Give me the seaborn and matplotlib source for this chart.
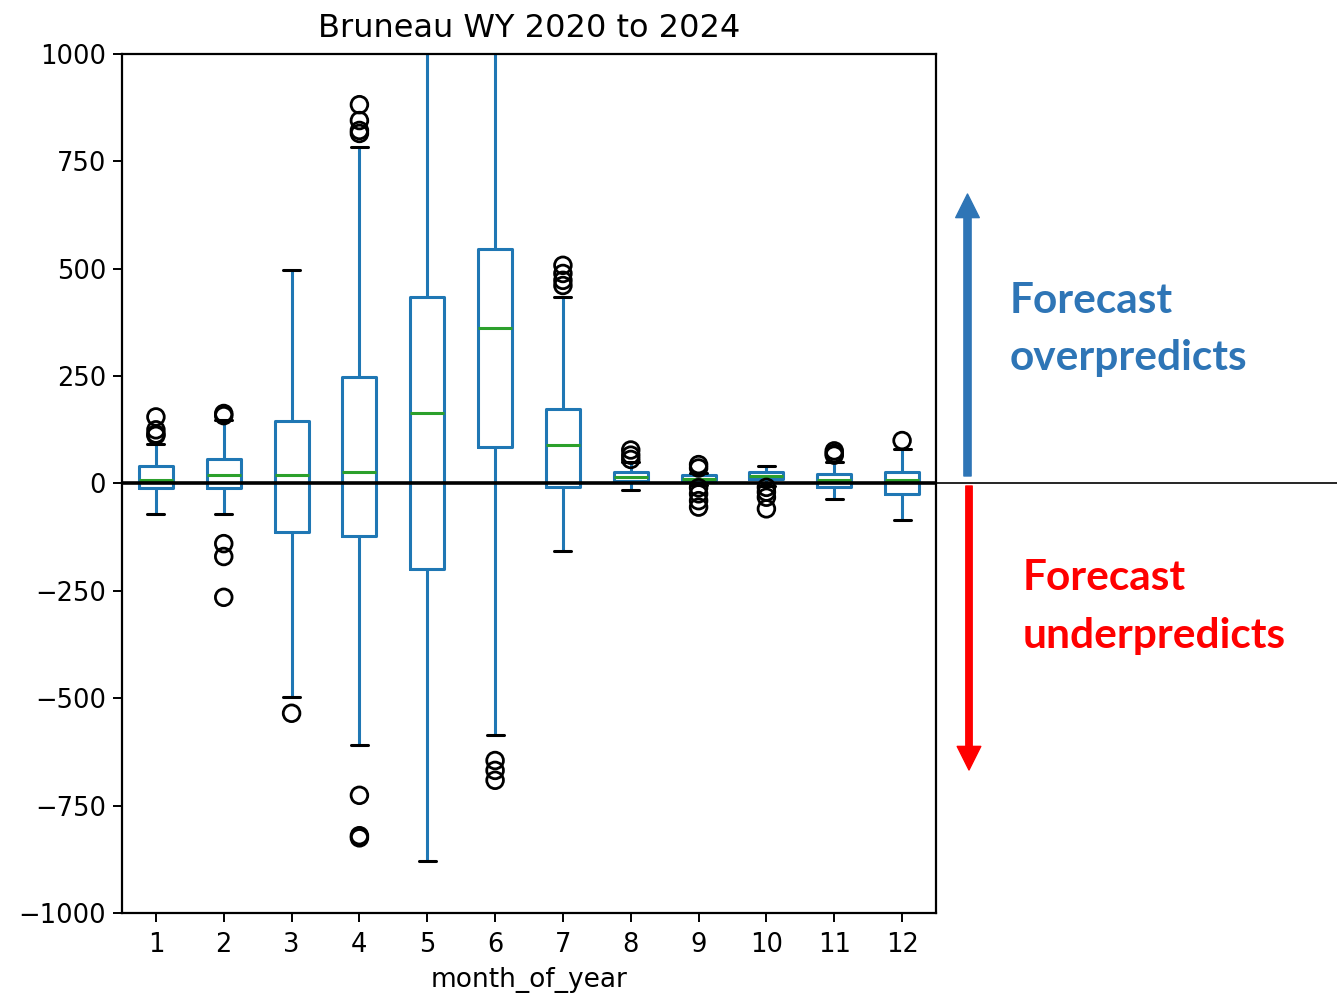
import numpy as np
import pandas as pd
import seaborn as sns
import matplotlib
matplotlib.use("Agg")
import matplotlib.pyplot as plt
from matplotlib.patches import FancyArrowPatch
from matplotlib.lines import Line2D

# ---- data ----
months = ["1", "2", "3", "4", "5", "6", "7", "8", "9", "10", "11", "12"]
# box stats: lower whisker, Q1, median, Q3, upper whisker
whisk_lo = [-70, -72, -497, -608, -880, -585, -158, -15, -3, -5, -37, -86]
q1       = [-10, -10, -113, -123, -200, 85, -7, 5, 9, 11, -8, -25]
median   = [8, 19, 19, 26, 163, 363, 89, 16, 11, 18, 7, 7]
q3       = [40, 56, 145, 249, 435, 545, 174, 26, 19, 26, 23, 26]
whisk_hi = [93, 147, 496, 783, 1250, 1300, 434, 50, 25, 40, 50, 80]
outliers = {
    "1": [155, 125, 115, 112],
    "2": [163, 158, -140, -170, -265],
    "3": [-535],
    "4": [882, 845, 822, 815, -726, -820, -825],
    "6": [-645, -668, -691],
    "7": [508, 489, 473, 461],
    "8": [78, 66, 56],
    "9": [44, 36, -10, -24, -40, -55],
    "10": [-9, -20, -32, -59],
    "11": [76, 70, 66],
    "12": [100],
}
yticks = [-1000, -750, -500, -250, 0, 250, 500, 750, 1000]

box_df = pd.DataFrame({
    "month_of_year": np.repeat(months, 5),
    "value": np.ravel(np.column_stack([whisk_lo, q1, median, q3, whisk_hi])),
})
out_df = pd.DataFrame(
    [(m, v) for m, vals in outliers.items() for v in vals],
    columns=["month_of_year", "value"],
)

sns.set_style("ticks")
plt.rcParams["font.family"] = ["DejaVu Sans"]

fig = plt.figure(figsize=(13.37, 9.94), dpi=100)
ax = fig.add_axes([122 / 1337, 1 - 913 / 994, (936 - 122) / 1337, (913 - 54) / 994])

blue = "#1f77b4"
sns.boxplot(
    data=box_df, x="month_of_year", y="value", order=months, ax=ax,
    whis=(0, 100), width=0.5, fill=False, color=blue, linewidth=2.2,
    boxprops=dict(color=blue, linewidth=2.2),
    whiskerprops=dict(color=blue, linewidth=2.2),
    capprops=dict(color="black", linewidth=2.2),
    medianprops=dict(color="#2ca02c", linewidth=2.2),
    showfliers=False,
)
n_before = len(ax.collections)
sns.stripplot(data=out_df, x="month_of_year", y="value", order=months, ax=ax,
              jitter=False, size=12, color="black")
for coll in ax.collections[n_before:]:
    coll.set_facecolor("none")
    coll.set_edgecolor("black")
    coll.set_linewidth(2)

ax.axhline(0, color="black", linewidth=2.6, zorder=5)
ax.set_ylim(-1000, 1000)
ax.set_xlim(-0.5, 11.5)
ax.set_yticks(yticks)
ax.set_yticklabels([f"{t}".replace("-", "\u2212") for t in yticks])
for s in ax.spines.values():
    s.set_visible(True)
    s.set_color("black")
    s.set_linewidth(1.6)
ax.tick_params(axis="both", labelsize=18.5, length=6.5, width=1.4, color="black",
               labelcolor="black", direction="out", pad=5)
ax.tick_params(axis="x", pad=7)
ax.set_xlabel("month_of_year", fontsize=19, labelpad=7, color="black")
ax.set_ylabel("")
ax.set_title("Bruneau WY 2020 to 2024", fontsize=23, pad=12, color="black")

# zero line extending outside the axes
fig.add_artist(Line2D([936 / 1337, 1.0], [1 - 483 / 994, 1 - 483 / 994],
                      transform=fig.transFigure, color="black", linewidth=1.2))

# arrows
fig.add_artist(FancyArrowPatch((967.5 / 1337, 1 - 476 / 994), (967.5 / 1337, 1 - 194 / 994),
                               transform=fig.transFigure,
                               arrowstyle="simple,head_width=1.7,head_length=1.7,tail_width=0.52",
                               mutation_scale=10, color="#2E75B6", shrinkA=0, shrinkB=0))
fig.add_artist(FancyArrowPatch((969 / 1337, 1 - 486 / 994), (969 / 1337, 1 - 770 / 994),
                               transform=fig.transFigure,
                               arrowstyle="simple,head_width=1.7,head_length=1.7,tail_width=0.46",
                               mutation_scale=10, color="#FF0000", shrinkA=0, shrinkB=0))

tk = dict(fontsize=30.5, fontweight="bold", family=["Lato", "DejaVu Sans"], va="baseline", ha="left")
fig.text(1010 / 1337, 1 - 313 / 994, "Forecast", color="#2E75B6", **tk)
fig.text(1010 / 1337, 1 - 370 / 994, "overpredicts", color="#2E75B6", **tk)
fig.text(1023 / 1337, 1 - 590 / 994, "Forecast", color="#FF0000", **tk)
fig.text(1023 / 1337, 1 - 648 / 994, "underpredicts", color="#FF0000", **tk)

fig.savefig("out.png", dpi=100, facecolor="white")
